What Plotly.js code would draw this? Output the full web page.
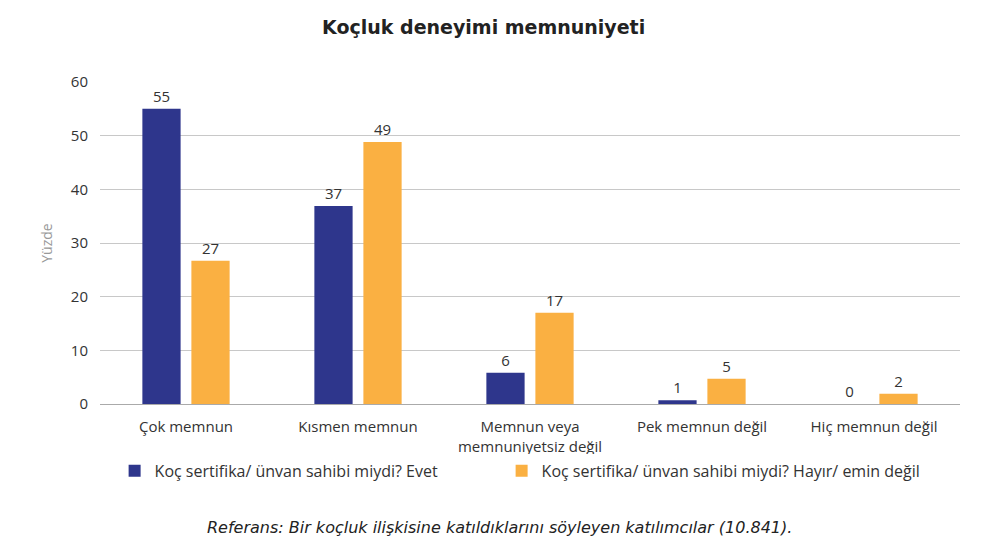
<!DOCTYPE html>
<html>
<head>
<meta charset="utf-8">
<script src="https://cdn.plot.ly/plotly-3.0.1.min.js"></script>
<style>
  body { margin: 0; background: #fff; }
  #chart { width: 981px; height: 547px; }
</style>
</head>
<body>
<div id="chart"></div>
<script>
let categories = ['Çok memnun', 'Kısmen memnun', 'Memnun veya<br>memnuniyetsiz değil', 'Pek memnun değil', 'Hiç memnun değil'];
let evetValues = [55, 36.9, 5.8, 0.7, 0];
let evetLabels = ['55', '37', '6', '1', '0'];
let hayirValues = [26.7, 48.8, 17, 4.7, 1.9];
let hayirLabels = ['27', '49', '17', '5', '2'];

let trace1 = {
  x: categories,
  y: evetValues,
  text: evetLabels,
  name: 'Koç sertifika/ ünvan sahibi miydi? Evet',
  type: 'bar',
  marker: {color: '#2E368C'},
  textposition: 'outside',
  cliponaxis: false,
  textfont: {family: 'Open Sans', size: 15, color: '#333'},
  showlegend: true,
  legend: 'legend',
};

let trace2 = {
  x: categories,
  y: hayirValues,
  text: hayirLabels,
  name: 'Koç sertifika/ ünvan sahibi miydi? Hayır/ emin değil',
  type: 'bar',
  marker: {color: '#FAB042'},
  textposition: 'outside',
  cliponaxis: false,
  textfont: {family: 'Open Sans', size: 15, color: '#333'},
  showlegend: true,
  legend: 'legend2',
};

let legendFont = {family: 'Open Sans', size: 16, color: '#333'};

let layout = {
  width: 981,
  height: 547,
  margin: {l: 100, r: 21, t: 82, b: 143},
  paper_bgcolor: '#fff',
  plot_bgcolor: '#fff',
  showlegend: true,
  barmode: 'group',
  bargap: 0.43,
  bargroupgap: 0.22,
  font: {family: 'Open Sans', size: 15, color: '#333'},
  title: {
    text: '<b>Koçluk deneyimi memnuniyeti</b>',
    font: {family: 'DejaVu Sans', size: 19, color: '#222'},
    x: 0.493, xanchor: 'center',
    y: 0.95, yanchor: 'middle',
  },
  xaxis: {
    tickfont: {family: 'Open Sans', size: 15, color: '#333'},
    showline: false,
    ticks: '',
    ticklabelstandoff: 12,
  },
  yaxis: {
    range: [0, 60],
    dtick: 10,
    gridcolor: '#C8C8C8',
    zerolinecolor: '#AAAAAA',
    tickfont: {family: 'Open Sans', size: 15, color: '#333'},
    ticklabelstandoff: 11,
    title: {text: 'Yüzde', font: {family: 'Open Sans', size: 14, color: '#999'}, standoff: 14},
  },
  legend: {
    visible: true,
    orientation: 'h',
    x: 0.017, xanchor: 'left',
    y: -0.155, yanchor: 'top',
    font: legendFont,
  },
  legend2: {
    visible: true,
    orientation: 'h',
    x: 0.467, xanchor: 'left',
    y: -0.155, yanchor: 'top',
    font: legendFont,
  },
  annotations: [{
    text: '<i>Referans: Bir koçluk ilişkisine katıldıklarını söyleyen katılımcılar (10.841).</i>',
    xref: 'paper', yref: 'paper',
    x: 0.464, xanchor: 'center',
    y: -0.382, yanchor: 'middle',
    showarrow: false,
    font: {family: 'DejaVu Sans', size: 16, color: '#222'},
  }],
};

Plotly.newPlot('chart', [trace1, trace2], layout, {displayModeBar: false});
</script>
</body>
</html>
